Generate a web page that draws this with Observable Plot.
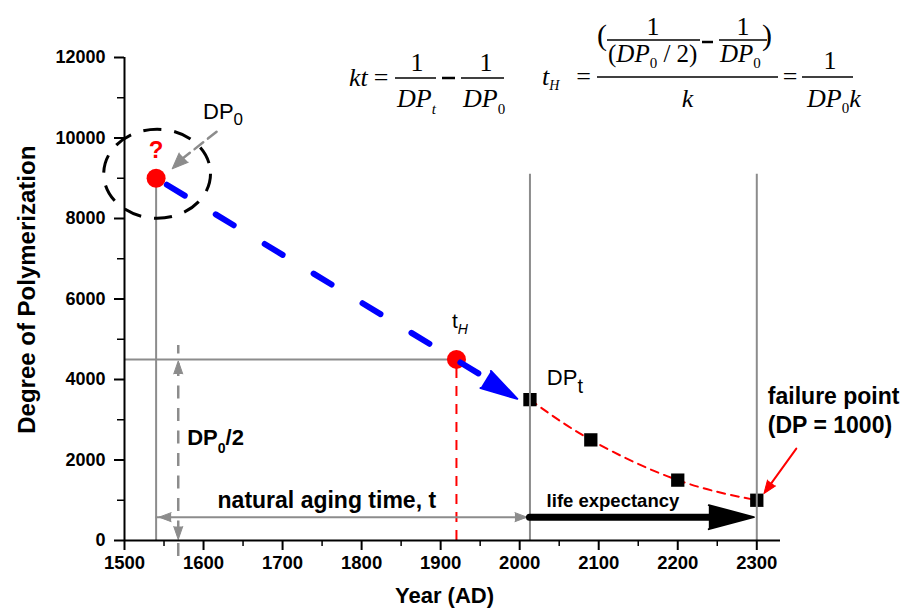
<!DOCTYPE html>
<html>
<head>
<meta charset="utf-8">
<script src="https://cdn.jsdelivr.net/npm/d3@7"></script>
<script src="https://cdn.jsdelivr.net/npm/@observablehq/plot@0.6"></script>
<style>
html,body{margin:0;padding:0;background:#fff;}
#chart{width:903px;height:613px;}
</style>
</head>
<body>
<div id="chart"></div>
<script>
// ---------------- data ----------------
const xTicks = [1500, 1600, 1700, 1800, 1900, 2000, 2100, 2200, 2300];
const xMinorTicks = [1550, 1650, 1750, 1850, 1950, 2050, 2150, 2250];
const yTicks = [0, 2000, 4000, 6000, 8000, 10000, 12000];
const yMinorTicks = [1000, 3000, 5000, 7000, 9000, 11000];

const measuredYears = [2013, 2090, 2200, 2300];
const measuredDP = [3500, 2500, 1500, 1000];

const originYear = 1540, originDP = 9000;   // estimated DP0
const halfYear = 1920, halfDP = 4500;       // tH, DP0/2
const presentYear = 2013;
const failureYear = 2300;
const guideTopDP = 9100;
const spanDP = 580;                         // level of the horizontal time arrows
const halfArrowYear = 1568;
const blueTip = {year: 1997, dp: 3520};
const blueBase = {year: 1958, dp: 4030};
const dp0ArrowFrom = {year: 1616.5, dp: 10154};
const dp0ArrowBase = {year: 1574.7, dp: 9508};
const dp0ArrowTip = {year: 1560.4, dp: 9235};
const failArrowFrom = {year: 2350, dp: 2284};
const failArrowBase = {year: 2318.5, dp: 1427};
const failArrowTip = {year: 2309, dp: 1167};

// ---------------- tables ----------------
const measured = measuredYears.map((year, i) => ({year, dp: measuredDP[i]}));
const redPoints = [{year: originYear, dp: originDP}, {year: halfYear, dp: halfDP}];

const gray = "#8c8c8c";
const sans = "'Liberation Sans', Arial, Helvetica, sans-serif";
const serif = "'Liberation Serif', 'Times New Roman', serif";

const ellipse = {
  draw(ctx, size) {
    const r = Math.sqrt(size / Math.PI), rx = r * 1.2, ry = r, k = 0.5523;
    ctx.moveTo(rx, 0);
    ctx.bezierCurveTo(rx, ry * k, rx * k, ry, 0, ry);
    ctx.bezierCurveTo(-rx * k, ry, -rx, ry * k, -rx, 0);
    ctx.bezierCurveTo(-rx, -ry * k, -rx * k, -ry, 0, -ry);
    ctx.bezierCurveTo(rx * k, -ry, rx, -ry * k, rx, 0);
    ctx.closePath();
  }
};

function head(pt, rotate, length, r, color, extra = {}) {
  return Plot.vector([pt], {x: "year", y: "dp", rotate, length, r, shape: "spike", anchor: "end",
    fill: color, stroke: color, strokeWidth: 1, strokeLinejoin: "round", ...extra});
}

const plot = Plot.plot({
  width: 903, height: 613,
  marginLeft: 124, marginRight: 123, marginTop: 57, marginBottom: 73,
  x: {domain: [1500, 2330]},
  y: {domain: [0, 12000]},
  style: {fontFamily: sans, background: "white", color: "black", overflow: "visible"},
  marks: [
    // guide lines
    Plot.ruleX([originYear], {y1: 0, y2: originDP, stroke: gray, strokeWidth: 2}),
    Plot.ruleY([halfDP], {x1: 1500, x2: halfYear, stroke: gray, strokeWidth: 2}),
    Plot.ruleX([halfYear], {y1: 0, y2: halfDP, stroke: "red", strokeWidth: 2, strokeDasharray: "10,8"}),
    // measured DP and fit
    Plot.line(measured, {x: "year", y: "dp", curve: "natural", stroke: "red", strokeWidth: 2, strokeDasharray: "8,6"}),
    Plot.dot(measured, {x: "year", y: "dp", symbol: "square", r: 7.5, fill: "black"}),
    Plot.ruleX([presentYear, failureYear], {y1: 0, y2: guideTopDP, stroke: gray, strokeWidth: 2}),
    // red points
    Plot.dot(redPoints, {x: "year", y: "dp", r: 9.5, fill: "red"}),
    // blue extrapolation arrow
    Plot.line([{year: originYear, dp: originDP}, blueBase], {x: "year", y: "dp", stroke: "blue", strokeWidth: 6,
      strokeDasharray: "21,36.2", strokeDashoffset: 44.7, strokeLinecap: "round"}),
    head(blueTip, 121.4, 37, 10, "blue", {strokeWidth: 2}),
    // natural aging time double arrow
    Plot.ruleY([spanDP], {x1: originYear, x2: presentYear, stroke: gray, strokeWidth: 2}),
    head({year: originYear, dp: spanDP}, 270, 12, 4.5, gray, {dx: 3}),
    head({year: presentYear, dp: spanDP}, 90, 12, 4.5, gray, {dx: -3}),
    // life expectancy arrow
    Plot.ruleY([spanDP], {x1: presentYear, x2: 2245, stroke: "black", strokeWidth: 7, strokeLinecap: "round"}),
    head({year: failureYear, dp: spanDP}, 90, 45, 12, "black", {dx: -3, strokeWidth: 2}),
    // DP0/2 vertical dashed double arrow
    Plot.ruleX([halfArrowYear], {y1: 0, y2: halfDP, stroke: gray, strokeWidth: 2.5, strokeDasharray: "13,9.5", insetTop: 16, insetBottom: 14}),
    head({year: halfArrowYear, dp: halfDP}, 0, 13, 4.5, gray, {dy: 1.5}),
    head({year: halfArrowYear, dp: 0}, 180, 13, 4.5, gray, {dy: -1}),
    // DP0 pointer
    Plot.line([dp0ArrowFrom, dp0ArrowBase], {x: "year", y: "dp", stroke: gray, strokeWidth: 2.5, strokeDasharray: "11,6"}),
    head(dp0ArrowTip, 225.6, 16, 6.5, gray),
    // failure point pointer
    Plot.line([failArrowFrom, failArrowBase], {x: "year", y: "dp", stroke: "red", strokeWidth: 2}),
    head(failArrowTip, 216, 13, 5, "red"),
    // dashed circle around unknown DP0
    Plot.dot([{year: originYear, dp: originDP}], {x: "year", y: "dp", symbol: ellipse, r: 44.5, fill: "none",
      stroke: "black", strokeWidth: 3, strokeDasharray: "18,13", dx: 1, dy: -4.5}),
    // plain labels
    Plot.text(["?"], {x: originYear, y: 9695, text: d => d, fill: "red", fontSize: 24, fontWeight: "bold"}),
    Plot.text(["natural aging time, t"], {x: 1756, y: 1000, text: d => d, fontSize: 23, fontWeight: "bold"}),
    Plot.text(["life expectancy"], {x: 2118, y: 970, text: d => d, fontSize: 18.5, fontWeight: "bold"}),
    Plot.text(["failure point"], {x: 2314, y: 3585, text: d => d, fontSize: 23, fontWeight: "bold", textAnchor: "start"}),
    Plot.text(["(DP = 1000)"], {x: 2314, y: 2865, text: d => d, fontSize: 23, fontWeight: "bold", textAnchor: "start"}),
    // axis titles
    Plot.text(["Year (AD)"], {frameAnchor: "bottom", dx: -8, dy: 62, text: d => d, fontSize: 22, fontWeight: "bold"}),
    Plot.text(["Degree of Polymerization"], {x: 1500, y: 6230, dx: -97, rotate: -90, text: d => d, fontSize: 24, fontWeight: "bold"}),
    // axes
    Plot.ruleY([0], {x1: 1500, x2: 2330, stroke: "black", strokeWidth: 2}),
    Plot.ruleX([1500], {y1: 0, y2: 12000, stroke: "black", strokeWidth: 2}),
    Plot.axisY({ticks: yTicks, tickSize: 10, tickPadding: 9, tickFormat: "d", fontSize: 18, fontWeight: "bold", strokeWidth: 2, label: null}),
    Plot.axisY({ticks: yMinorTicks, tickSize: 7, tickFormat: () => "", strokeWidth: 1.5, label: null}),
    Plot.axisX({ticks: xTicks, tickSize: 10, tickPadding: 5, tickFormat: "d", fontSize: 18.5, fontWeight: "bold", strokeWidth: 2, label: null}),
    Plot.axisX({ticks: xMinorTicks, tickSize: 6, tickFormat: () => "", strokeWidth: 1.5, label: null})
  ]
});

document.getElementById("chart").appendChild(plot);

// ---------------- rich-text annotations ----------------
const X = v => plot.scale("x").apply(v);
const Y = v => plot.scale("y").apply(v);
const svg = d3.select(plot);
const g = svg.append("g");

function rich(x, y, parts, base) {
  const t = g.append("text").attr("x", x).attr("y", y)
    .attr("font-family", base.family || sans)
    .attr("font-size", base.size)
    .attr("font-weight", base.weight || "normal")
    .attr("font-style", base.italic ? "italic" : "normal")
    .attr("text-anchor", base.anchor || "start")
    .attr("fill", "black");
  let cur = 0;
  for (const p of parts) {
    const s = t.append("tspan").text(p.text);
    const off = p.dy || 0;
    if (off !== cur) { s.attr("dy", off - cur); cur = off; }
    if (p.size) s.attr("font-size", p.size);
    if (p.italic !== undefined) s.attr("font-style", p.italic ? "italic" : "normal");
  }
  return t;
}
function bar(x1, x2, y, w = 1.3) {
  g.append("line").attr("x1", x1).attr("x2", x2).attr("y1", y).attr("y2", y)
    .attr("stroke", "black").attr("stroke-width", w);
}

rich(X(1600), Y(10450), [{text: "DP"}, {text: "0", size: 17, dy: 6}], {size: 22});
rich(X(1915), Y(5256), [{text: "t"}, {text: "H", size: 14, dy: 6, italic: true}], {size: 21});
rich(X(2035), Y(3848), [{text: "DP"}, {text: "t", size: 20, dy: 8}], {size: 22});
rich(X(1580), Y(2358), [{text: "DP"}, {text: "0", size: 14, dy: 8}, {text: "/2", dy: 0}], {size: 22, weight: "bold"});

// formula 1: kt = 1/DPt - 1/DP0
const F = {family: serif, size: 26};
rich(349, 86, [{text: "kt", italic: true}], F);
rich(381, 86, [{text: "="}], {...F, anchor: "middle"});
bar(395, 436, 78);
rich(417, 71, [{text: "1"}], {...F, anchor: "middle"});
rich(397, 107, [{text: "DP", italic: true}, {text: "t", size: 15, dy: 7, italic: true}], F);
bar(442, 455, 78, 2.5);
bar(461, 504, 78);
rich(486, 71, [{text: "1"}], {...F, anchor: "middle"});
rich(463, 107, [{text: "DP", italic: true}, {text: "0", size: 15, dy: 7}], F);

// formula 2: tH = (1/(DP0/2) - 1/DP0)/k = 1/(DP0 k)
rich(542, 85, [{text: "t", italic: true}, {text: "H", size: 14, dy: 5, italic: true}], F);
rich(583.5, 85, [{text: "="}], {...F, anchor: "middle"});
bar(597, 778, 77);
rich(597, 45, [{text: "("}], {family: serif, size: 30});
bar(607, 700, 40);
rich(653, 35, [{text: "1"}], {...F, anchor: "middle"});
rich(608, 62, [{text: "("}, {text: "DP", italic: true}, {text: "0", size: 15, dy: 6}, {text: " / 2)", dy: 0}], {family: serif, size: 25});
bar(702, 713, 42, 2.5);
bar(719, 767, 40);
rich(743, 35, [{text: "1"}], {...F, anchor: "middle"});
rich(720, 62, [{text: "DP", italic: true}, {text: "0", size: 15, dy: 6}], {family: serif, size: 25});
rich(762, 45, [{text: ")"}], {family: serif, size: 30});
rich(687.5, 107, [{text: "k", italic: true}], {...F, anchor: "middle"});
rich(790, 85, [{text: "="}], {...F, anchor: "middle"});
bar(802, 853, 77);
rich(830, 69, [{text: "1"}], {...F, anchor: "middle"});
rich(807, 107, [{text: "DP", italic: true}, {text: "0", size: 15, dy: 6}, {text: "k", italic: true, dy: 0}], F);
</script>
</body>
</html>
